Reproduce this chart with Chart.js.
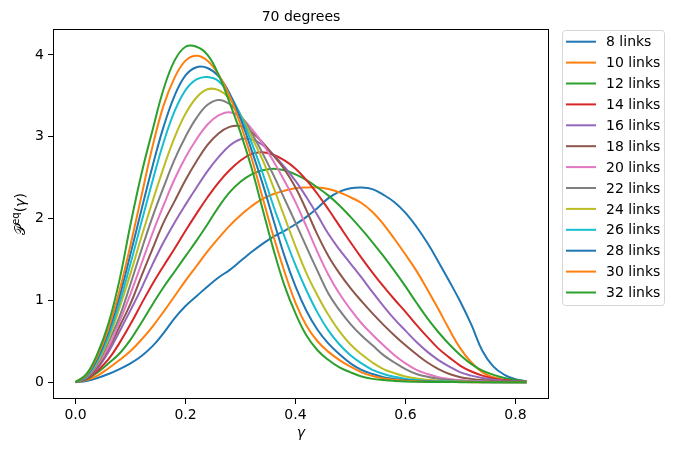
<!DOCTYPE html>
<html>
<head>
<meta charset="utf-8">
<script src="https://cdn.jsdelivr.net/npm/chart.js@4.4.0/dist/chart.umd.min.js"></script>
<style>
  html, body { margin: 0; padding: 0; background: #fff; }
  #wrap { width: 675px; height: 453px; }
</style>
</head>
<body>
<div id="wrap"><canvas id="chart" width="675" height="453"></canvas></div>
<script>
// 70 degrees - equilibrium distributions per chain length

const gamma = [0, 0.02, 0.04, 0.06, 0.08, 0.10, 0.12, 0.14, 0.16, 0.18, 0.20, 0.22, 0.24, 0.26,
  0.28, 0.30, 0.32, 0.34, 0.36, 0.38, 0.40, 0.42, 0.44, 0.46, 0.48, 0.50, 0.52, 0.54, 0.56,
  0.58, 0.60, 0.62, 0.64, 0.66, 0.68, 0.70, 0.72, 0.74, 0.76, 0.78, 0.80, 0.82];

const links8 = [0, 0.015, 0.05, 0.10, 0.16, 0.23, 0.32, 0.44, 0.60, 0.78, 0.93, 1.05, 1.17, 1.28,
  1.37, 1.48, 1.59, 1.69, 1.78, 1.85, 1.93, 2.02, 2.13, 2.25, 2.33, 2.37, 2.38, 2.36, 2.29,
  2.20, 2.07, 1.90, 1.70, 1.47, 1.23, 0.98, 0.70, 0.38, 0.19, 0.09, 0.035, 0.01];
const links10 = [0, 0.025, 0.08, 0.17, 0.27, 0.38, 0.52, 0.68, 0.86, 1.05, 1.24, 1.42, 1.60, 1.76,
  1.91, 2.04, 2.15, 2.24, 2.30, 2.34, 2.37, 2.38, 2.38, 2.36, 2.32, 2.26, 2.19, 2.08, 1.93,
  1.75, 1.56, 1.36, 1.13, 0.89, 0.64, 0.41, 0.24, 0.12, 0.06, 0.025, 0.01, 0.005];
const links12 = [0, 0.035, 0.12, 0.23, 0.35, 0.52, 0.73, 0.95, 1.16, 1.35, 1.54, 1.73, 1.93, 2.14,
  2.32, 2.45, 2.54, 2.59, 2.61, 2.59, 2.54, 2.47, 2.38, 2.28, 2.16, 2.02, 1.87, 1.71, 1.54,
  1.36, 1.17, 0.97, 0.78, 0.61, 0.46, 0.33, 0.22, 0.14, 0.09, 0.05, 0.025, 0.012];
const links14 = [0, 0.04, 0.14, 0.28, 0.48, 0.71, 0.96, 1.20, 1.42, 1.63, 1.85, 2.06, 2.26, 2.44,
  2.59, 2.71, 2.79, 2.81, 2.78, 2.71, 2.61, 2.47, 2.30, 2.11, 1.91, 1.71, 1.52, 1.34, 1.17,
  1.01, 0.86, 0.70, 0.55, 0.41, 0.30, 0.20, 0.13, 0.08, 0.045, 0.025, 0.012, 0.006];
const links16 = [0, 0.05, 0.17, 0.37, 0.62, 0.88, 1.15, 1.44, 1.71, 1.95, 2.17, 2.38, 2.58, 2.75,
  2.89, 2.97, 2.97, 2.90, 2.78, 2.63, 2.46, 2.26, 2.04, 1.81, 1.62, 1.45, 1.28, 1.10, 0.93,
  0.77, 0.63, 0.49, 0.37, 0.27, 0.19, 0.12, 0.08, 0.05, 0.03, 0.018, 0.01, 0.005];
const links18 = [0, 0.05, 0.19, 0.41, 0.68, 0.96, 1.30, 1.63, 1.95, 2.21, 2.47, 2.70, 2.90, 3.04,
  3.12, 3.13, 3.06, 2.93, 2.77, 2.60, 2.38, 2.10, 1.80, 1.54, 1.33, 1.15, 0.99, 0.84, 0.70,
  0.57, 0.45, 0.34, 0.24, 0.16, 0.10, 0.06, 0.04, 0.025, 0.015, 0.01, 0.005, 0.002];
const links20 = [0, 0.06, 0.21, 0.43, 0.74, 1.08, 1.45, 1.82, 2.16, 2.48, 2.75, 2.97, 3.15, 3.26,
  3.30, 3.24, 3.10, 2.92, 2.70, 2.46, 2.20, 1.90, 1.59, 1.31, 1.08, 0.89, 0.72, 0.58, 0.45,
  0.33, 0.23, 0.15, 0.10, 0.06, 0.04, 0.025, 0.015, 0.01, 0.005, 0.003, 0.001, 0];
const links22 = [0, 0.06, 0.23, 0.49, 0.80, 1.20, 1.62, 2.02, 2.38, 2.72, 3.00, 3.23, 3.39, 3.45,
  3.40, 3.26, 3.05, 2.80, 2.53, 2.24, 1.95, 1.65, 1.36, 1.08, 0.88, 0.71, 0.57, 0.45, 0.33,
  0.24, 0.16, 0.10, 0.065, 0.04, 0.025, 0.015, 0.01, 0.006, 0.003, 0.002, 0.001, 0];
const links24 = [0, 0.07, 0.25, 0.53, 0.91, 1.33, 1.78, 2.21, 2.62, 2.99, 3.28, 3.48, 3.58, 3.57,
  3.47, 3.27, 3.00, 2.72, 2.38, 2.02, 1.66, 1.33, 1.06, 0.82, 0.62, 0.46, 0.34, 0.24, 0.16,
  0.11, 0.07, 0.045, 0.03, 0.018, 0.01, 0.006, 0.003, 0.002, 0.001, 0, 0, 0];
const links26 = [0, 0.07, 0.27, 0.57, 0.97, 1.45, 1.96, 2.46, 2.93, 3.31, 3.57, 3.70, 3.73, 3.68,
  3.52, 3.26, 2.93, 2.56, 2.15, 1.78, 1.43, 1.12, 0.85, 0.63, 0.46, 0.33, 0.23, 0.15, 0.10,
  0.065, 0.04, 0.025, 0.015, 0.01, 0.006, 0.004, 0.002, 0.001, 0, 0, 0, 0];
const links28 = [0, 0.08, 0.29, 0.62, 1.05, 1.57, 2.11, 2.64, 3.12, 3.50, 3.75, 3.85, 3.84, 3.74,
  3.53, 3.22, 2.84, 2.43, 1.98, 1.54, 1.17, 0.87, 0.64, 0.47, 0.34, 0.23, 0.15, 0.10, 0.06,
  0.04, 0.025, 0.015, 0.01, 0.006, 0.004, 0.002, 0.001, 0, 0, 0, 0, 0];
const links30 = [0, 0.09, 0.32, 0.66, 1.12, 1.68, 2.28, 2.88, 3.38, 3.72, 3.93, 3.99, 3.93, 3.76,
  3.50, 3.15, 2.74, 2.26, 1.78, 1.35, 0.97, 0.69, 0.50, 0.37, 0.27, 0.19, 0.12, 0.075, 0.045,
  0.028, 0.017, 0.01, 0.006, 0.004, 0.002, 0.001, 0, 0, 0, 0, 0, 0];
const links32 = [0, 0.10, 0.35, 0.72, 1.25, 1.93, 2.55, 3.08, 3.58, 3.93, 4.10, 4.10, 4.00, 3.76,
  3.42, 3.05, 2.62, 2.12, 1.62, 1.18, 0.84, 0.57, 0.39, 0.27, 0.18, 0.12, 0.07, 0.04, 0.025,
  0.015, 0.008, 0.005, 0.003, 0.002, 0.001, 0, 0, 0, 0, 0, 0, 0];

const seriesLabels = ["8 links", "10 links", "12 links", "14 links", "16 links", "18 links",
  "20 links", "22 links", "24 links", "26 links", "28 links", "30 links", "32 links"];
const seriesValues = [links8, links10, links12, links14, links16, links18, links20,
  links22, links24, links26, links28, links30, links32];

const xTicks = [0, 0.2, 0.4, 0.6, 0.8];
const yTicks = [0, 1, 2, 3, 4];

// matplotlib tab10 cycle
const COLORS = ["#1f77b4", "#ff7f0e", "#2ca02c", "#d62728", "#9467bd", "#8c564b",
  "#e377c2", "#7f7f7f", "#bcbd22", "#17becf", "#1f77b4", "#ff7f0e", "#2ca02c"];

const FONT = "'DejaVu Sans', Verdana, sans-serif";

const datasets = seriesValues.map((vals, i) => ({
  label: seriesLabels[i],
  data: gamma.map((g, j) => ({ x: g, y: vals[j] })),
  borderColor: COLORS[i],
  backgroundColor: COLORS[i],
  borderWidth: 2,
  pointRadius: 0,
  fill: false,
  tension: 0.4,
  order: seriesValues.length - i   // later series on top, like matplotlib
}));

// frame, title, axis labels and the legend box
const decorations = {
  id: "decorations",
  afterDraw(chart) {
    const { ctx, chartArea: a } = chart;
    ctx.save();

    ctx.strokeStyle = "#000";
    ctx.lineWidth = 1;
    ctx.strokeRect(Math.round(a.left) + 0.5, Math.round(a.top) + 0.5,
      Math.round(a.right - a.left) - 1, Math.round(a.bottom - a.top) - 1);

    const cx = (a.left + a.right) / 2;
    ctx.fillStyle = "#000";
    ctx.textAlign = "center";
    ctx.textBaseline = "alphabetic";
    ctx.font = `14px ${FONT}`;
    ctx.fillText("70 degrees", cx, 21);

    ctx.font = `italic 14px ${FONT}`;
    ctx.fillText("γ", cx, 437);

    // y label: P^eq(γ), rotated
    ctx.save();
    ctx.translate(25, (a.top + a.bottom) / 2);
    ctx.rotate(-Math.PI / 2);
    ctx.textAlign = "left";
    const parts = [
      { t: "𝒫", f: `14px ${FONT}`, dy: 0 },
      { t: "eq", f: `10px ${FONT}`, dy: -6 },
      { t: "(", f: `14px ${FONT}`, dy: 0 },
      { t: "γ", f: `italic 14px ${FONT}`, dy: 0 },
      { t: ")", f: `14px ${FONT}`, dy: 0 }
    ];
    let total = 0;
    parts.forEach(p => { ctx.font = p.f; p.w = ctx.measureText(p.t).width; total += p.w; });
    let x = -total / 2;
    parts.forEach(p => { ctx.font = p.f; ctx.fillText(p.t, x, p.dy); x += p.w; });
    ctx.restore();

    // legend
    const lx = 562.5, ly = 30.5, lw = 102, lh = 275;
    ctx.beginPath();
    ctx.roundRect(lx, ly, lw, lh, 3);
    ctx.fillStyle = "rgba(255,255,255,0.8)";
    ctx.fill();
    ctx.strokeStyle = "#d6d6d6";
    ctx.lineWidth = 1;
    ctx.stroke();

    ctx.font = `14px ${FONT}`;
    ctx.textAlign = "left";
    ctx.textBaseline = "middle";
    seriesLabels.forEach((lab, i) => {
      const y = 41.7 + i * 20.9;
      ctx.beginPath();
      ctx.moveTo(566, y);
      ctx.lineTo(596, y);
      ctx.strokeStyle = COLORS[i];
      ctx.lineWidth = 2;
      ctx.stroke();
      ctx.fillStyle = "#000";
      ctx.fillText(lab, 606, y + 1);
    });
    ctx.restore();
  }
};

new Chart(document.getElementById("chart"), {
  type: "line",
  data: { datasets },
  options: {
    responsive: false,
    animation: false,
    devicePixelRatio: 1,
    layout: { padding: { left: 0, top: 29, right: 126, bottom: 0 } },
    plugins: {
      legend: { display: false },
      title: { display: false },
      tooltip: { enabled: false }
    },
    scales: {
      x: {
        type: "linear",
        min: -0.041,
        max: 0.861,
        afterBuildTicks: s => { s.ticks = xTicks.map(v => ({ value: v })); },
        afterFit: s => { s.height = 54; },
        border: { display: false },
        grid: { display: true, drawOnChartArea: false, drawTicks: true, tickLength: 5, color: "#000", tickColor: "#000" },
        ticks: { color: "#000", padding: 3, maxRotation: 0, font: { family: FONT, size: 14 }, callback: v => v.toFixed(1) }
      },
      y: {
        type: "linear",
        min: -0.206,
        max: 4.317,
        afterBuildTicks: s => { s.ticks = yTicks.map(v => ({ value: v })); },
        afterFit: s => { s.width = 53; },
        border: { display: false },
        grid: { display: true, drawOnChartArea: false, drawTicks: true, tickLength: 5, color: "#000", tickColor: "#000" },
        ticks: { color: "#000", padding: 4, font: { family: FONT, size: 14 }, callback: v => String(v) }
      }
    }
  },
  plugins: [decorations]
});
</script>
</body>
</html>
